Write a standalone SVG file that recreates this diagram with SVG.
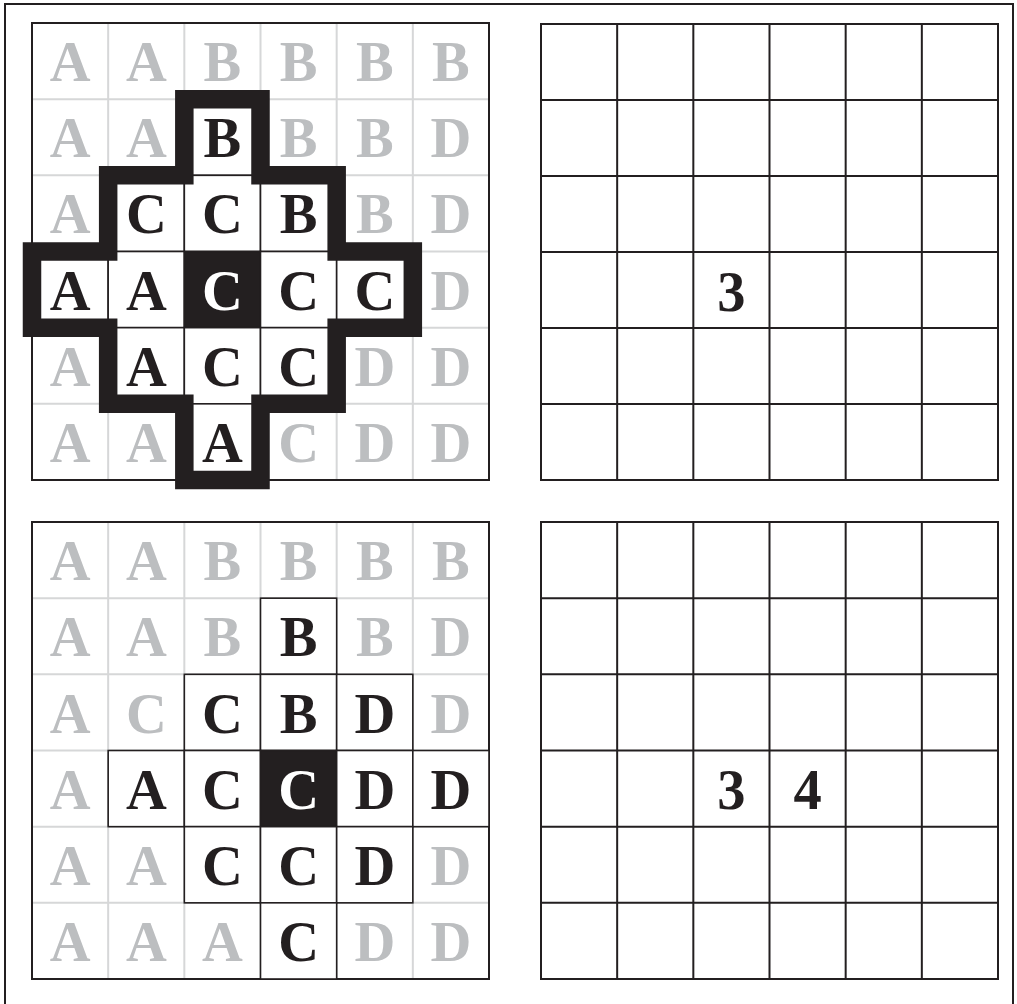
<svg xmlns="http://www.w3.org/2000/svg" width="1017" height="1004" viewBox="0 0 1017 1004">
<style>
.bg{fill:#fff}
.light{stroke:#d6d7d8;stroke-width:2;fill:none}
.border{stroke:#231f20;stroke-width:2;fill:none}
.hl{fill:#fff;stroke:#231f20;stroke-width:1.6}
.ctr{fill:#231f20;stroke:#231f20;stroke-width:1.6}
.thick{fill:none;stroke:#231f20;stroke-width:18.5;stroke-linejoin:miter}
.grid{stroke:#231f20;stroke-width:2;fill:none}
text{font-family:"Liberation Serif","Times New Roman",serif;font-weight:bold;font-size:56.5px;text-anchor:middle}
.g{fill:#bcbec0}
.k{fill:#231f20}
.w{fill:#fff}
</style>
<rect x="0" y="0" width="1017" height="1004" fill="#fff"/>
<rect id="frame" x="5" y="4" width="1008" height="1012" fill="none" stroke="#231f20" stroke-width="2"/>

<g id="panel-top-left">
  <rect class="bg" x="32" y="23" width="457" height="457"/>
  <path class="light" d="M108.17 23V480M184.33 23V480M260.5 23V480M336.67 23V480M412.83 23V480M32 99.17H489M32 175.33H489M32 251.5H489M32 327.67H489M32 403.83H489"/>
  <rect class="border" x="32" y="23" width="457" height="457"/>
  <g id="tl-highlight">
    <rect class="hl" x="184.33" y="99.17" width="76.17" height="76.17"/>
    <rect class="hl" x="108.17" y="175.33" width="76.17" height="76.17"/>
    <rect class="hl" x="184.33" y="175.33" width="76.17" height="76.17"/>
    <rect class="hl" x="260.5" y="175.33" width="76.17" height="76.17"/>
    <rect class="hl" x="32" y="251.5" width="76.17" height="76.17"/>
    <rect class="hl" x="108.17" y="251.5" width="76.17" height="76.17"/>
    <rect class="ctr" x="184.33" y="251.5" width="76.17" height="76.17"/>
    <rect class="hl" x="260.5" y="251.5" width="76.17" height="76.17"/>
    <rect class="hl" x="336.67" y="251.5" width="76.17" height="76.17"/>
    <rect class="hl" x="108.17" y="327.67" width="76.17" height="76.17"/>
    <rect class="hl" x="184.33" y="327.67" width="76.17" height="76.17"/>
    <rect class="hl" x="260.5" y="327.67" width="76.17" height="76.17"/>
    <rect class="hl" x="184.33" y="403.83" width="76.17" height="76.17"/>
  </g>
  <path id="tl-outline" class="thick" d="M184.33 99.17H260.5V175.33H336.67V251.5H412.83V327.67H336.67V403.83H260.5V480H184.33V403.83H108.17V327.67H32V251.5H108.17V175.33H184.33Z"/>
  <g id="tl-letters">
    <text class="g" x="70.1" y="81">A</text><text class="g" x="146.3" y="81">A</text><text class="g" x="222.4" y="81">B</text><text class="g" x="298.6" y="81">B</text><text class="g" x="374.8" y="81">B</text><text class="g" x="450.9" y="81">B</text>
    <text class="g" x="70.1" y="157">A</text><text class="g" x="146.3" y="157">A</text><text class="k" x="222.4" y="157">B</text><text class="g" x="298.6" y="157">B</text><text class="g" x="374.8" y="157">B</text><text class="g" x="450.9" y="157">D</text>
    <text class="g" x="70.1" y="233">A</text><text class="k" x="146.3" y="233">C</text><text class="k" x="222.4" y="233">C</text><text class="k" x="298.6" y="233">B</text><text class="g" x="374.8" y="233">B</text><text class="g" x="450.9" y="233">D</text>
    <text class="k" x="70.1" y="309.5">A</text><text class="k" x="146.3" y="309.5">A</text><text class="w" x="222.4" y="309.5">C</text><text class="k" x="298.6" y="309.5">C</text><text class="k" x="374.8" y="309.5">C</text><text class="g" x="450.9" y="309.5">D</text>
    <text class="g" x="70.1" y="386">A</text><text class="k" x="146.3" y="386">A</text><text class="k" x="222.4" y="386">C</text><text class="k" x="298.6" y="386">C</text><text class="g" x="374.8" y="386">D</text><text class="g" x="450.9" y="386">D</text>
    <text class="g" x="70.1" y="462">A</text><text class="g" x="146.3" y="462">A</text><text class="k" x="222.4" y="462">A</text><text class="g" x="298.6" y="462">C</text><text class="g" x="374.8" y="462">D</text><text class="g" x="450.9" y="462">D</text>
  </g>
</g>

<g id="panel-top-right">
  <rect class="bg" x="541" y="24" width="457" height="456"/>
  <path class="grid" d="M617.17 24V480M693.33 24V480M769.5 24V480M845.67 24V480M921.83 24V480M541 100H998M541 176H998M541 252H998M541 328H998M541 404H998"/>
  <rect class="grid" x="541" y="24" width="457" height="456"/>
  <text class="k" x="731.4" y="311">3</text>
</g>

<g id="panel-bottom-left">
  <rect class="bg" x="32" y="522" width="457" height="457"/>
  <path class="light" d="M108.17 522V979M184.33 522V979M260.5 522V979M336.67 522V979M412.83 522V979M32 598.17H489M32 674.33H489M32 750.5H489M32 826.67H489M32 902.83H489"/>
  <rect class="border" x="32" y="522" width="457" height="457"/>
  <g id="bl-highlight">
    <rect class="hl" x="260.5" y="598.17" width="76.17" height="76.17"/>
    <rect class="hl" x="184.33" y="674.33" width="76.17" height="76.17"/>
    <rect class="hl" x="260.5" y="674.33" width="76.17" height="76.17"/>
    <rect class="hl" x="336.67" y="674.33" width="76.17" height="76.17"/>
    <rect class="hl" x="108.17" y="750.5" width="76.17" height="76.17"/>
    <rect class="hl" x="184.33" y="750.5" width="76.17" height="76.17"/>
    <rect class="ctr" x="260.5" y="750.5" width="76.17" height="76.17"/>
    <rect class="hl" x="336.67" y="750.5" width="76.17" height="76.17"/>
    <rect class="hl" x="412.83" y="750.5" width="76.17" height="76.17"/>
    <rect class="hl" x="184.33" y="826.67" width="76.17" height="76.17"/>
    <rect class="hl" x="260.5" y="826.67" width="76.17" height="76.17"/>
    <rect class="hl" x="336.67" y="826.67" width="76.17" height="76.17"/>
    <rect class="hl" x="260.5" y="902.83" width="76.17" height="76.17"/>
  </g>
  <g id="bl-letters">
    <text class="g" x="70.1" y="580">A</text><text class="g" x="146.3" y="580">A</text><text class="g" x="222.4" y="580">B</text><text class="g" x="298.6" y="580">B</text><text class="g" x="374.8" y="580">B</text><text class="g" x="450.9" y="580">B</text>
    <text class="g" x="70.1" y="656">A</text><text class="g" x="146.3" y="656">A</text><text class="g" x="222.4" y="656">B</text><text class="k" x="298.6" y="656">B</text><text class="g" x="374.8" y="656">B</text><text class="g" x="450.9" y="656">D</text>
    <text class="g" x="70.1" y="732.5">A</text><text class="g" x="146.3" y="732.5">C</text><text class="k" x="222.4" y="732.5">C</text><text class="k" x="298.6" y="732.5">B</text><text class="k" x="374.8" y="732.5">D</text><text class="g" x="450.9" y="732.5">D</text>
    <text class="g" x="70.1" y="808.5">A</text><text class="k" x="146.3" y="808.5">A</text><text class="k" x="222.4" y="808.5">C</text><text class="w" x="298.6" y="808.5">C</text><text class="k" x="374.8" y="808.5">D</text><text class="k" x="450.9" y="808.5">D</text>
    <text class="g" x="70.1" y="885">A</text><text class="g" x="146.3" y="885">A</text><text class="k" x="222.4" y="885">C</text><text class="k" x="298.6" y="885">C</text><text class="k" x="374.8" y="885">D</text><text class="g" x="450.9" y="885">D</text>
    <text class="g" x="70.1" y="961">A</text><text class="g" x="146.3" y="961">A</text><text class="g" x="222.4" y="961">A</text><text class="k" x="298.6" y="961">C</text><text class="g" x="374.8" y="961">D</text><text class="g" x="450.9" y="961">D</text>
  </g>
</g>

<g id="panel-bottom-right">
  <rect class="bg" x="541" y="522" width="457" height="457"/>
  <path class="grid" d="M617.17 522V979M693.33 522V979M769.5 522V979M845.67 522V979M921.83 522V979M541 598.17H998M541 674.33H998M541 750.5H998M541 826.67H998M541 902.83H998"/>
  <rect class="grid" x="541" y="522" width="457" height="457"/>
  <text class="k" x="731.4" y="809">3</text>
  <text class="k" x="807.6" y="809">4</text>
</g>

<g id="connectors"></g>
</svg>
